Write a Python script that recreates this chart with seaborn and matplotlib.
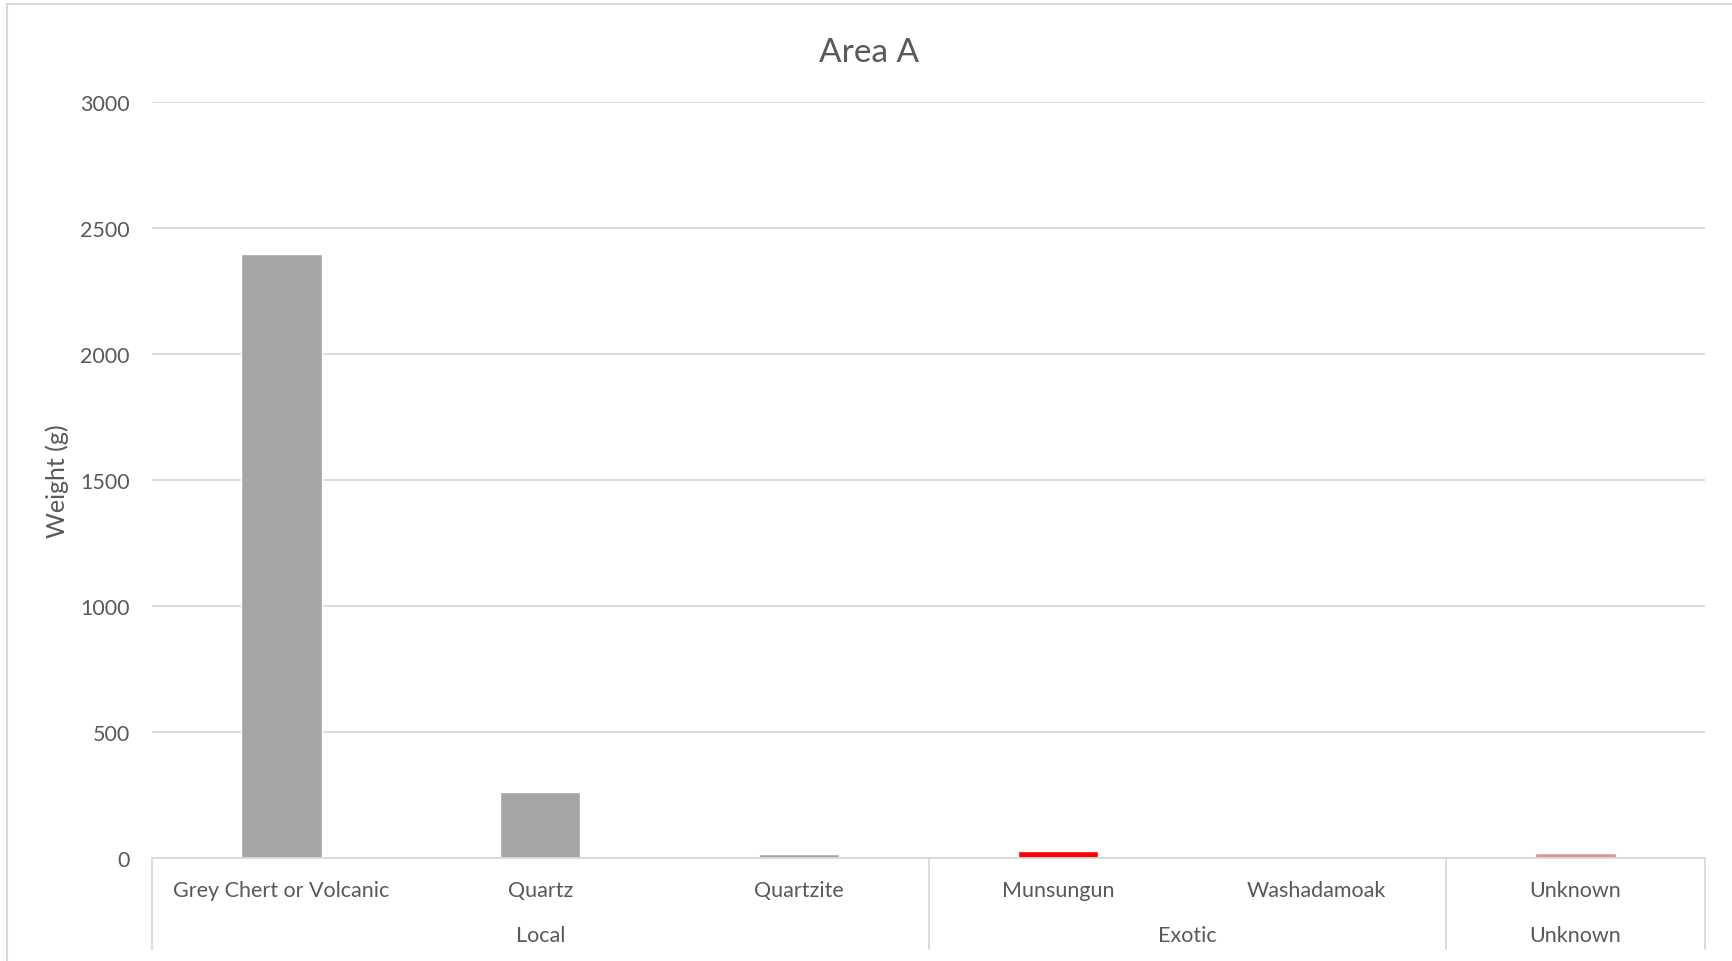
import matplotlib
matplotlib.use('Agg')
import matplotlib.pyplot as plt
import seaborn as sns
import pandas as pd
from matplotlib.lines import Line2D

# --- Datos ---
materiales = ['Grey Chert or Volcanic', 'Quartz', 'Quartzite', 'Munsungun', 'Washadamoak', 'Unknown']
pesos = [2400, 262, 17, 29, 0, 21]
colores = ['#A5A5A5', '#A5A5A5', '#A5A5A5', '#FF0000', '#FF0000', '#DA9694']
grupos = ['Local', 'Exotic', 'Unknown']
grupo_inicio = [0, 3, 5]
grupo_fin = [2, 4, 5]

TEXTO = '#595959'
LINEA = '#D9D9D9'

sns.set_theme(style='white')
plt.rcParams['font.family'] = ['Lato', 'DejaVu Sans']

df = pd.DataFrame({'material': materiales, 'peso': pesos})

fig = plt.figure(figsize=(17.32, 9.62), dpi=100)
ax = fig.add_axes([0.0878, 0.1068, 0.8966, 0.7858])

sns.barplot(data=df, x='material', y='peso', hue='material', order=materiales,
            palette=dict(zip(materiales, colores)), width=0.31, legend=False,
            saturation=1, ax=ax)

ax.set_ylim(0, 3000)
ax.set_xlim(-0.5, len(materiales) - 0.5)
ax.set_yticks(range(0, 3001, 500))
ax.yaxis.grid(True, color=LINEA, linewidth=1.3)
ax.set_axisbelow(True)
for lado in ['top', 'right', 'left']:
    ax.spines[lado].set_visible(False)
ax.spines['bottom'].set_color(LINEA)
ax.spines['bottom'].set_linewidth(1.3)
ax.tick_params(axis='y', length=0, pad=16, labelsize=15.5, labelcolor=TEXTO)
ax.set_xticks([])
ax.set_xlabel(None)
ax.set_ylabel('Weight (g)', fontsize=18, color=TEXTO, labelpad=8)

# Etiquetas de categoría (dos niveles, estilo Excel)
trans = ax.get_xaxis_transform()
for i, m in enumerate(materiales):
    ax.text(i, -0.042, m, transform=trans, ha='center', va='center',
            fontsize=15.5, color=TEXTO)
for g, a, b in zip(grupos, grupo_inicio, grupo_fin):
    ax.text((a + b) / 2, -0.102, g, transform=trans, ha='center', va='center',
            fontsize=15.5, color=TEXTO)
for x in [-0.5, 2.5, 4.5, 5.5]:
    ax.add_line(Line2D([x, x], [0, -0.12], transform=trans, color=LINEA,
                       linewidth=1.3, clip_on=False))

fig.suptitle('Area A', x=0.502, y=0.961, fontsize=24, color=TEXTO)

# Borde del gráfico
fig.add_artist(Line2D([0.004, 1], [0.9948, 0.9948], color=LINEA, linewidth=1.5))
fig.add_artist(Line2D([0.004, 0.004], [0, 0.9948], color=LINEA, linewidth=1.5))

plt.savefig('out.png', dpi=100)
plt.close()
